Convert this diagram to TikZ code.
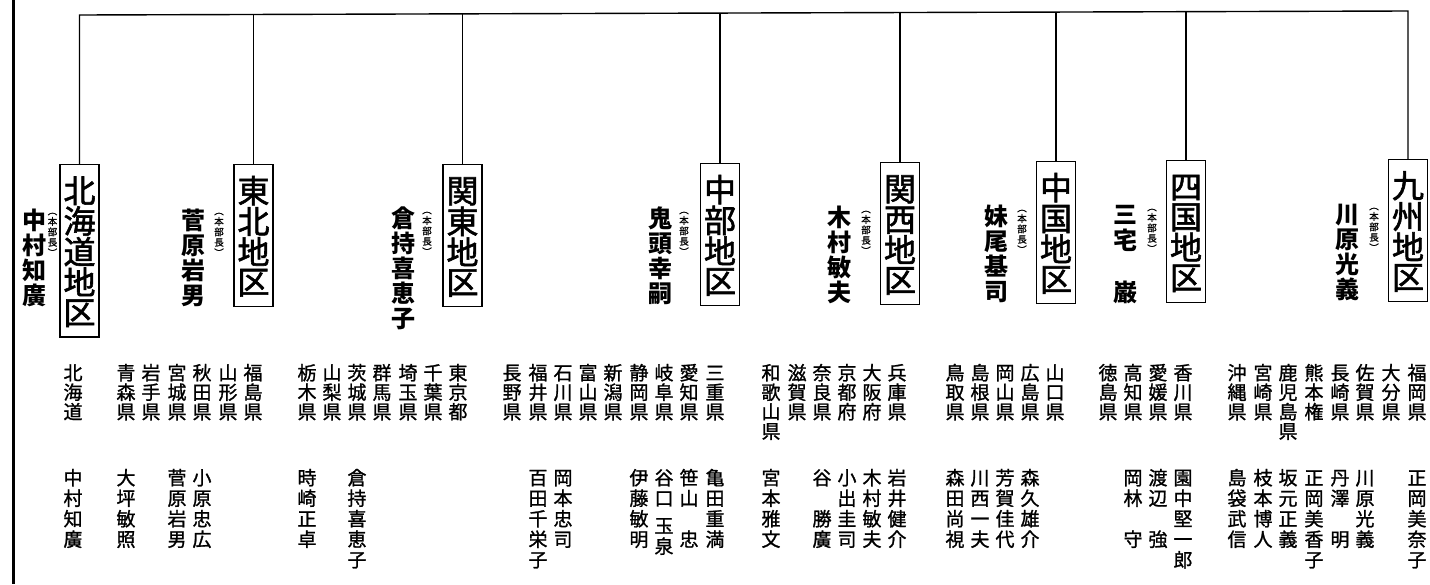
\documentclass[tikz,border=0pt]{standalone}
\usepackage{fontspec}
\newfontfamily\jp{Noto Sans CJK JP}
\newfontfamily\jpm[FakeBold=1.2]{Noto Sans CJK JP}
\newfontfamily\jpb[FakeBold=1.8]{Noto Sans CJK JP}
\makeatletter
\newcommand\vcol[2][1.05]{\vbox{\offinterlineskip\edef\vc@run{\noexpand\@tfor\noexpand\vc@c:=#2\noexpand\do}\vc@run{\hbox to 1em{\hss\vrule width 0pt height .88em depth \dimexpr #1em-.88em\relax\vc@c\hss}}}}
\makeatother
\tikzset{
  region/.style={draw, line width=1.2pt, inner xsep=3.5pt, inner ysep=10pt, anchor=north, font=\jpb\fontsize{32}{32}\selectfont},
  chief/.style={inner sep=0pt, anchor=north, font=\jp\bfseries\fontsize{24}{24}\selectfont},
  title/.style={inner sep=0pt, anchor=north, font=\jpm\fontsize{9.5}{9.5}\selectfont},
  pref/.style={inner sep=0pt, anchor=north, font=\jpm\fontsize{19}{19}\selectfont},
  member/.style={inner sep=0pt, anchor=north, font=\jpm\fontsize{19}{19}\selectfont},
  link/.style={line width=1.4pt},
}
\begin{document}
\begin{tikzpicture}[x=1pt,y=-1pt]
\useasboundingbox (0,0) rectangle (1430,584);
\fill[white] (0,0) rectangle (1430,584);
% left border
\draw[line width=3pt] (13.5,0) -- (13.5,584);
% region boxes
\node[region] (r1) at (79.5,164) {\vcol[0.9375]{北海道地区}};
\node[region] (r2) at (253.5,164) {\vcol[0.9375]{東北地区}};
\node[region] (r3) at (462.5,164) {\vcol[0.9375]{関東地区}};
\node[region] (r4) at (720,163) {\vcol[0.9375]{中部地区}};
\node[region] (r5) at (900,162) {\vcol[0.9375]{関西地区}};
\node[region] (r6) at (1056,161) {\vcol[0.9375]{中国地区}};
\node[region] (r7) at (1186,160) {\vcol[0.9375]{四国地区}};
\node[region] (r8) at (1408,159) {\vcol[0.9375]{九州地区}};
% tree
\coordinate (t1) at (79.5,15);
\coordinate (t2) at (253.5,14.5);
\coordinate (t3) at (462.5,13.8);
\coordinate (t4) at (720,13.1);
\coordinate (t5) at (900,12.5);
\coordinate (t6) at (1056,12.1);
\coordinate (t7) at (1186,11.7);
\coordinate (t8) at (1408,11);
\draw[link, line join=miter] (r1.north) -- (t1) -- (t8) -- (r8.north);
\foreach \i in {2,...,7} \draw[link] (t\i) -- (r\i.north);
% chiefs
\node[chief] (d1) at (35,208) {\vcol[1.042]{中村知廣}};
\node[chief] (d2) at (193,208) {\vcol[1.042]{菅原岩男}};
\node[chief] (d3) at (403,206) {\vcol[1.042]{倉持喜恵子}};
\node[chief] (d4) at (660,206) {\vcol[1.042]{鬼頭幸嗣}};
\node[chief] (d5) at (839,205) {\vcol[1.042]{木村敏夫}};
\node[chief] (d6) at (996,204) {\vcol[1.042]{妹尾基司}};
\node[chief] (d7) at (1125,202) {\vcol[1.083]{三宅　巌}};
\node[chief] (d8) at (1347,202) {\vcol[1.042]{川原光義}};
\foreach \x/\y [count=\i] in {52.5/206,219/206,427/205,684/205,866/204,1022/203,1152/202,1374/201}
  \node[title] (h\i) at (\x,\y) {\vcol[1.1]{︵本部長︶}};
% prefectures
\foreach \x/\s [count=\i] in {73/北海道,
  126/青森県,151/岩手県,177/宮城県,202/秋田県,228/山形県,253/福島県,
  307/栃木県,332/山梨県,357/茨城県,382/群馬県,408/埼玉県,433/千葉県,458/東京都,
  512/長野県,538/福井県,563/石川県,588/富山県,613/新潟県,639/静岡県,664/岐阜県,689/愛知県,715/三重県,
  771/和歌山県,797/滋賀県,822/奈良県,847/京都府,872/大阪府,897/兵庫県,
  955/鳥取県,980/島根県,1005/岡山県,1030/広島県,1055/山口県,
  1108/徳島県,1133/高知県,1158/愛媛県,1183/香川県,
  1237/沖縄県,1263/宮崎県,1288/鹿児島県,1314/熊本権,1340/長崎県,1365/佐賀県,1391/大分県,1417/福岡県}
  \node[pref] (p\i) at (\x,363) {\vcol[1.026]{\s}};
% members
\foreach \x/\s [count=\i] in {73/中村知廣,126/大坪敏照,177/菅原岩男,202/小原忠広,
  307/時崎正卓,357/倉持喜恵子,
  538/百田千栄子,563/岡本忠司,639/伊藤敏明,689/笹山　忠,715/亀田重満,
  771/宮本雅文,822/谷　勝廣,847/小出圭司,872/木村敏夫,897/岩井健介,
  955/森田尚視,980/川西一夫,1005/芳賀佳代,1030/森久雄介,
  1133/岡林　守,1158/渡辺　強,1183/園中堅一郎,
  1237/島袋武信,1263/枝本博人,1288/坂元正義,1314/正岡美香子,1340/丹澤　明,1365/川原光義,1417/正岡美奈子}
  \node[member] (m\i) at (\x,468) {\vcol[1.079]{\s}};
\node[member] (mt) at (664,468) {\vbox{\vcol[1.079]{谷口}\kern 6pt\vcol[1.079]{玉泉}}};
\end{tikzpicture}
\end{document}
